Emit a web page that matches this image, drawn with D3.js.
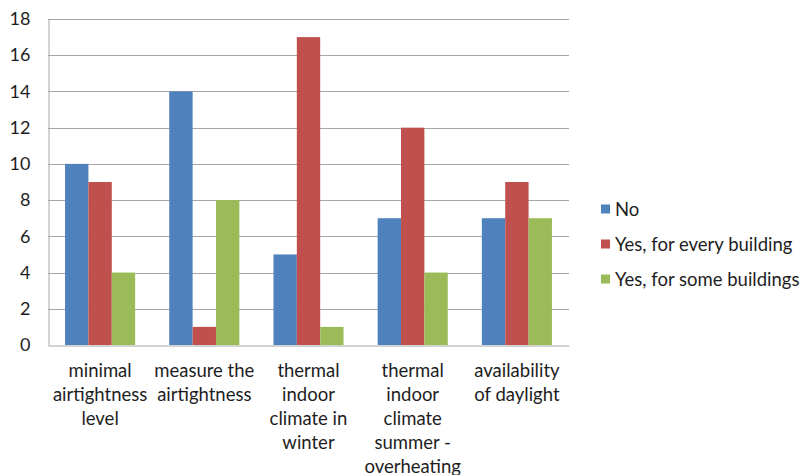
<!DOCTYPE html>
<html><head><meta charset="utf-8">
<script src="https://cdn.jsdelivr.net/npm/d3@7"></script>
<style>
html,body{margin:0;padding:0;background:#fff;}
svg text{font-family:Lato,"Open Sans",sans-serif;fill:#1e1e1e;}
</style></head>
<body><svg id="c" width="802" height="475"></svg>
<script>
const categories = ["minimal airtightness level","measure the airtightness","thermal indoor climate in winter","thermal indoor climate summer - overheating","availability of daylight"];
const categoryLines = [["minimal","airtightness","level"],["measure the","airtightness"],["thermal","indoor","climate in","winter"],["thermal","indoor","climate","summer -","overheating"],["availability","of daylight"]];
const seriesNames = ["No","Yes, for every building","Yes, for some buildings"];
const seriesColors = ["#4F81BD","#C0504D","#9BBB59"];
const noValues = [10,14,5,7,7];
const everyValues = [9,1,17,12,9];
const someValues = [4,8,1,4,7];
const yTicks = [0,2,4,6,8,10,12,14,16,18];

const series = [noValues, everyValues, someValues];
const svg = d3.select("#c");
const L = 48, R = 569, T = 19, B = 345;
const x = d3.scaleBand().domain(categories).range([L, R]).paddingInner(0).paddingOuter(0);
const x1 = d3.scaleBand().domain(seriesNames).range([0, x.bandwidth()]).paddingInner(0).paddingOuter(0.73);
const y = d3.scaleLinear().domain([0, 18]).range([B, T]);

// gridlines
svg.append("g").selectAll("line").data(yTicks.filter(d=>d>0)).join("line")
  .attr("x1", L).attr("x2", R).attr("y1", d=>Math.round(y(d))+0.5).attr("y2", d=>Math.round(y(d))+0.5)
  .attr("stroke", "#a6a6a6").attr("stroke-width", 1);

// bars
const g = svg.append("g");
series.forEach((vals, si) => {
  g.append("g").selectAll("rect").data(vals).join("rect")
    .attr("x", (d,i)=> x(categories[i]) + x1(seriesNames[si]))
    .attr("width", x1.bandwidth())
    .attr("y", d=>y(d)).attr("height", d=>y(0)-y(d))
    .attr("fill", seriesColors[si]);
});

// y axis
const yAxis = d3.axisLeft(y).tickValues(yTicks).tickSize(0).tickPadding(18);
const ya = svg.append("g").attr("transform", `translate(${L+0.5},0)`).call(yAxis);
ya.select(".domain").attr("stroke", "#a6a6a6");
ya.selectAll("text").attr("font-size", 18).attr("font-family", "Lato, sans-serif").attr("fill", "#1e1e1e");

// x axis baseline
const xAxis = d3.axisBottom(x).tickSize(0).tickFormat("");
const xa = svg.append("g").attr("transform", `translate(0,${Math.round(B)+0.5})`).call(xAxis);
xa.select(".domain").attr("stroke", "#a6a6a6");

// category labels
categories.forEach((c, i) => {
  const t = svg.append("text").attr("text-anchor", "middle").attr("font-size", 18.5)
    .attr("x", x(c) + x.bandwidth()/2).attr("y", 377);
  categoryLines[i].forEach((ln, k) => {
    t.append("tspan").attr("x", x(c) + x.bandwidth()/2).attr("dy", k===0?0:24).text(ln);
  });
});

// legend
const leg = svg.append("g");
seriesNames.forEach((n, i) => {
  const cy = 209 + i*35;
  leg.append("rect").attr("x", 601).attr("y", cy-4.5).attr("width", 9).attr("height", 9).attr("fill", seriesColors[i]);
  leg.append("text").attr("x", 615).attr("y", cy+6.5).attr("font-size", 18.5).text(n);
});
</script></body></html>
